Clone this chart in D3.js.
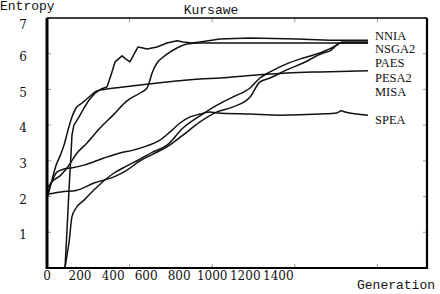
<!DOCTYPE html>
<html>
<head>
    <meta charset="utf-8">
    <title>Kursawe Entropy</title>
    <script src="https://d3js.org/d3.v7.min.js"></script>
    <style>
        body { margin: 0; background: #fff; }
        .curve { fill: none; stroke: #111; stroke-width: 1.5px; stroke-linejoin: round; }
        .tick-lab { font-family: "DejaVu Serif", serif; font-size: 12px; fill: #111; }
        .legend { font-family: "Liberation Serif", serif; font-size: 12.5px; fill: #111; }
        .mono { font-family: "Liberation Mono", monospace; font-size: 13px; fill: #111; }
    </style>
</head>
<body>
<div id="chart"></div>
<script>
    // 数据：代数 / 熵
    const nniaGen  = [109, 121, 133, 145, 151, 163, 194, 224, 254, 291, 327, 363, 387, 412, 454, 478, 502, 527, 551, 581, 605, 666, 726, 787, 823, 878, 926, 1047, 1229, 1513, 1713, 1943];
    const nniaEnt  = [0, 1.06, 2.18, 3.16, 3.72, 4.00, 4.23, 4.48, 4.70, 4.90, 5.01, 5.07, 5.40, 5.77, 5.94, 5.85, 5.77, 5.99, 6.19, 6.16, 6.13, 6.19, 6.30, 6.36, 6.33, 6.30, 6.33, 6.41, 6.44, 6.41, 6.38, 6.38];

    const nsga2Gen = [6, 30, 79, 121, 182, 242, 321, 400, 484, 563, 605, 623, 636, 666, 696, 726, 787, 847, 926, 1229, 1531, 1943];
    const nsga2Ent = [2.13, 2.41, 2.58, 2.80, 3.22, 3.50, 3.92, 4.28, 4.68, 4.90, 5.04, 5.26, 5.46, 5.74, 5.88, 5.99, 6.16, 6.27, 6.30, 6.30, 6.30, 6.30];

    const paesGen  = [6, 30, 54, 79, 103, 127, 151, 176, 212, 248, 303, 363, 521, 726, 926, 1047, 1247, 1453, 1652, 1943];
    const paesEnt  = [2.02, 2.46, 2.86, 3.14, 3.44, 3.86, 4.23, 4.48, 4.62, 4.76, 4.96, 5.01, 5.10, 5.21, 5.29, 5.32, 5.40, 5.46, 5.49, 5.52];

    const pesa2Gen = [109, 121, 133, 151, 176, 224, 303, 406, 484, 563, 642, 726, 823, 926, 1029, 1126, 1229, 1289, 1350, 1447, 1550, 1652, 1755, 1786, 1943];
    const pesa2Ent = [0, 0.36, 0.70, 1.43, 1.68, 1.90, 2.27, 2.66, 2.86, 3.05, 3.25, 3.44, 3.92, 4.26, 4.56, 4.79, 5.04, 5.32, 5.49, 5.71, 5.88, 6.02, 6.24, 6.33, 6.33];

    const misaGen  = [6, 85, 182, 284, 406, 484, 563, 642, 726, 823, 926, 1029, 1126, 1229, 1289, 1350, 1447, 1550, 1671, 1713, 1774, 1943];
    const misaEnt  = [2.07, 2.13, 2.18, 2.38, 2.55, 2.74, 3.00, 3.19, 3.39, 3.72, 4.09, 4.37, 4.51, 4.79, 5.21, 5.32, 5.54, 5.74, 6.02, 6.08, 6.30, 6.30];

    const speaGen  = [6, 24, 61, 103, 145, 224, 345, 442, 521, 605, 684, 745, 805, 866, 926, 987, 1029, 1229, 1410, 1652, 1755, 1780, 1804, 1943];
    const speaEnt  = [2.27, 2.38, 2.69, 2.77, 2.80, 2.88, 3.08, 3.22, 3.30, 3.42, 3.58, 3.81, 4.06, 4.23, 4.31, 4.37, 4.34, 4.31, 4.28, 4.31, 4.34, 4.40, 4.37, 4.28];

    const algorithms = ["NNIA", "NSGA2", "PAES", "PESA2", "MISA", "SPEA"];
    const xTickLabels = [0, 200, 400, 600, 800, 1000, 1200, 1400];
    const xTickMarks = [500, 1000, 1500, 2000];
    const yTicks = [1, 2, 3, 4, 5, 6, 7];

    const width = 440, height = 294;
    const plotL = 47, plotR = 427, plotT = 18, plotB = 268;

    const svg = d3.select("#chart").append("svg")
        .attr("width", width).attr("height", height);

    const x = d3.scaleLinear().domain([0, 2300]).range([plotL, plotR]);
    const y = d3.scaleLinear().domain([0, 7]).range([plotB, plotT]);

    const series = [
        { gen: nniaGen, ent: nniaEnt, curve: d3.curveLinear },
        { gen: nsga2Gen, ent: nsga2Ent, curve: d3.curveMonotoneX },
        { gen: paesGen, ent: paesEnt, curve: d3.curveMonotoneX },
        { gen: pesa2Gen, ent: pesa2Ent, curve: d3.curveMonotoneX },
        { gen: misaGen, ent: misaEnt, curve: d3.curveMonotoneX },
        { gen: speaGen, ent: speaEnt, curve: d3.curveMonotoneX }
    ];

    // 曲线
    series.forEach(s => {
        const pts = s.gen.map((g, i) => [g, s.ent[i]]);
        svg.append("path")
            .attr("class", "curve")
            .attr("d", d3.line().x(d => x(d[0])).y(d => y(d[1])).curve(s.curve)(pts));
    });

    // 内侧刻度
    const tickG = svg.append("g").attr("stroke", "#999").attr("stroke-width", 1);
    yTicks.forEach(v => {
        tickG.append("line").attr("x1", plotL).attr("x2", plotL + 4).attr("y1", y(v)).attr("y2", y(v));
        tickG.append("line").attr("x1", plotR - 4).attr("x2", plotR).attr("y1", y(v)).attr("y2", y(v));
    });
    xTickMarks.forEach(v => {
        tickG.append("line").attr("x1", x(v)).attr("x2", x(v)).attr("y1", plotB).attr("y2", plotB - 4);
        tickG.append("line").attr("x1", x(v)).attr("x2", x(v)).attr("y1", plotT).attr("y2", plotT + 4);
    });

    // 边框
    const frame = svg.append("g").attr("stroke", "#000");
    frame.append("line").attr("x1", plotL).attr("x2", plotR).attr("y1", plotT).attr("y2", plotT).attr("stroke-width", 1.5);
    frame.append("line").attr("x1", plotL).attr("x2", plotL).attr("y1", plotT).attr("y2", plotB + 1).attr("stroke-width", 3);
    frame.append("line").attr("x1", plotL).attr("x2", plotR + 1).attr("y1", plotB).attr("y2", plotB).attr("stroke-width", 2.2);
    frame.append("line").attr("x1", plotR).attr("x2", plotR).attr("y1", plotT).attr("y2", plotB + 1).attr("stroke-width", 2.2);

    // 坐标标签
    svg.selectAll(".ylab").data(yTicks).enter().append("text")
        .attr("class", "tick-lab")
        .attr("x", 23)
        .attr("y", d => y(d) + (d === 7 ? 7 : 3))
        .attr("dy", "0.35em")
        .attr("text-anchor", "middle")
        .text(d => d);

    svg.selectAll(".xlab").data(xTickLabels).enter().append("text")
        .attr("class", "tick-lab")
        .attr("x", d => x(d))
        .attr("y", 276)
        .attr("dy", "0.35em")
        .attr("text-anchor", "middle")
        .text(d => d);

    // 图例文字
    const labelY = [36, 49, 63, 78, 92, 120];
    svg.selectAll(".legend").data(algorithms).enter().append("text")
        .attr("class", "legend")
        .attr("x", 375)
        .attr("y", (d, i) => labelY[i])
        .attr("dy", "0.35em")
        .text(d => d);

    svg.append("text").attr("class", "mono").attr("x", 0).attr("y", 10).text("Entropy");
    svg.append("text").attr("class", "mono").attr("x", 211).attr("y", 14).attr("text-anchor", "middle").text("Kursawe");
    svg.append("text").attr("class", "mono").attr("x", 357).attr("y", 289).text("Generation");
</script>
</body>
</html>
